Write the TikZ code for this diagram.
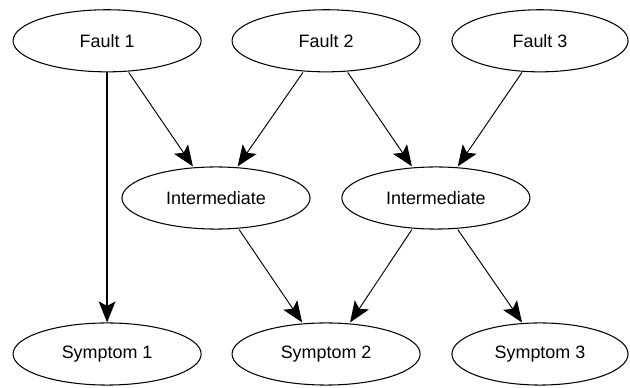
\documentclass[tikz,border=0pt]{standalone}
\usepackage{fontspec}
\setmainfont{Liberation Sans}
\usetikzlibrary{shapes.geometric, arrows.meta}

\begin{document}
\begin{tikzpicture}[
  evt/.style={draw, ellipse, line width=1pt, minimum width=6.27cm, minimum height=2.07cm, inner sep=0pt, font=\fontsize{17}{20}\selectfont},
  evtr/.style={evt, minimum width=5.87cm},
  arr/.style={line width=0.9pt, -{Stealth[length=7mm, width=5.6mm, inset=1.5mm]}}
]
  \useasboundingbox (0,0) rectangle (21,12.93);

  \node[evt]  (f1) at (3.57, 11.57) {Fault 1};
  \node[evt]  (f2) at (10.87, 11.57) {Fault 2};
  \node[evtr] (f3) at (18.0, 11.57) {Fault 3};

  \node[evt] (i1) at (7.2, 6.33) {Intermediate};
  \node[evt] (i2) at (14.53, 6.33) {Intermediate};

  \node[evt]  (s1) at (3.57, 1.13) {Symptom 1};
  \node[evt]  (s2) at (10.87, 1.13) {Symptom 2};
  \node[evtr] (s3) at (18.0, 1.13) {Symptom 3};

  % faults to intermediates
  \draw[arr, line width=1.2pt] (f1.south) -- (s1.north);
  \draw[arr] ([xshift=0.72cm]f1.south) -- ([xshift=-0.77cm]i1.north);
  \draw[arr] ([xshift=-0.77cm]f2.south) -- ([xshift=0.72cm]i1.north);
  \draw[arr] ([xshift=0.72cm]f2.south) -- ([xshift=-0.8cm]i2.north);
  \draw[arr] ([xshift=-0.6cm]f3.south) -- ([xshift=0.73cm]i2.north);

  % intermediates to symptoms
  \draw[arr] ([xshift=0.77cm]i1.south) -- ([xshift=-0.8cm]s2.north);
  \draw[arr] ([xshift=-0.8cm]i2.south) -- ([xshift=0.8cm]s2.north);
  \draw[arr] ([xshift=0.73cm]i2.south) -- ([xshift=-0.6cm]s3.north);
\end{tikzpicture}
\end{document}
